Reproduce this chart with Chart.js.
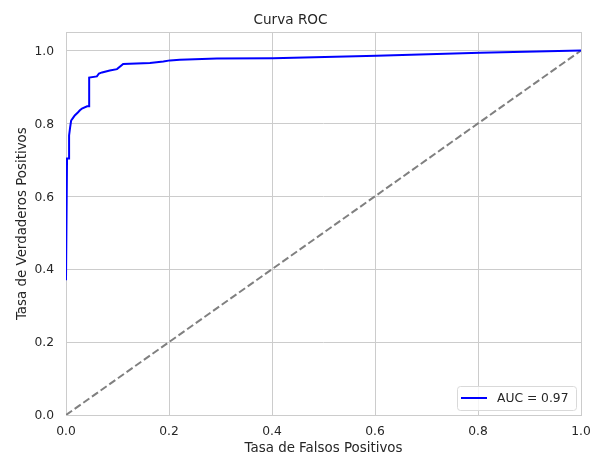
<!DOCTYPE html>
<html>
<head>
<meta charset="utf-8">
<script src="https://cdn.jsdelivr.net/npm/chart.js@4"></script>
<style>
  html, body { margin: 0; padding: 0; background: #fff; }
  #wrap { width: 597px; height: 457px; }
</style>
</head>
<body>
<div id="wrap"><canvas id="roc-chart"></canvas></div>
<script>
// curva ROC
let fpr = [0, 0.002, 0.006, 0.006, 0.008, 0.010, 0.013, 0.017, 0.023, 0.027, 0.031, 0.041, 0.045, 0.045, 0.060, 0.064, 0.070, 0.085, 0.099, 0.111, 0.163, 0.189, 0.202, 0.221, 0.293, 0.402, 0.603, 0.804, 1.0];
let tpr = [0.370, 0.704, 0.704, 0.767, 0.789, 0.808, 0.814, 0.822, 0.830, 0.836, 0.841, 0.847, 0.847, 0.926, 0.929, 0.937, 0.940, 0.945, 0.949, 0.963, 0.966, 0.970, 0.973, 0.975, 0.978, 0.979, 0.986, 0.994, 1.0];
let diag_x = [0, 1];
let diag_y = [0, 1];
let y_ticks = [0, 0.2, 0.4, 0.6, 0.8, 1.0];
let auc_label = "AUC = 0.97";

const txt = "#262626";
const gridCol = "#cccccc";
const fam = "'DejaVu Sans', sans-serif";

const toPoints = (xs, ys) => xs.map((v, i) => ({x: v, y: ys[i]}));

// marco y leyenda dentro del area
const framePlugin = {
  id: 'frame',
  beforeDatasetsDraw(chart) {
    const a = chart.chartArea, ctx = chart.ctx;
    ctx.save();
    ctx.strokeStyle = gridCol;
    ctx.lineWidth = 1;
    ctx.strokeRect(Math.round(a.left) + 0.5, Math.round(a.top) + 0.5,
                   Math.round(a.right - a.left), Math.round(a.bottom - a.top));
    ctx.restore();
  },
  afterDraw(chart) {
    const a = chart.chartArea, ctx = chart.ctx;
    const w = 119, h = 24;
    const x0 = a.right - 5 - w, y0 = a.bottom - 5 - h;
    ctx.save();
    ctx.fillStyle = "rgba(255,255,255,0.8)";
    ctx.strokeStyle = "#d9d9d9";
    ctx.lineWidth = 1;
    ctx.beginPath();
    ctx.roundRect(x0 + 0.5, y0 + 0.5, w, h, 3);
    ctx.fill();
    ctx.stroke();
    ctx.strokeStyle = "blue";
    ctx.lineWidth = 2;
    ctx.beginPath();
    ctx.moveTo(x0 + 4, y0 + h / 2);
    ctx.lineTo(x0 + 30, y0 + h / 2);
    ctx.stroke();
    ctx.fillStyle = txt;
    ctx.font = "12.3px " + fam;
    ctx.textBaseline = "middle";
    ctx.fillText(auc_label, x0 + 40, y0 + h / 2 + 0.5);
    ctx.restore();
  }
};

const ctx = document.getElementById('roc-chart');
const myChart = new Chart(ctx, {
  type: 'scatter',
  data: {
    datasets: [
      {
        data: toPoints(fpr, tpr),
        showLine: true,
        borderColor: "blue",
        backgroundColor: "blue",
        borderWidth: 2,
        pointRadius: 0,
        tension: 0
      },
      {
        data: toPoints(diag_x, diag_y),
        showLine: true,
        borderColor: "gray",
        borderWidth: 2,
        borderDash: [7.4, 3.2],
        pointRadius: 0
      }
    ]
  },
  options: {
    responsive: true,
    maintainAspectRatio: false,
    animation: false,
    layout: { padding: { left: 0, right: 16, top: 0, bottom: 0 } },
    plugins: {
      legend: { display: false },
      tooltip: { enabled: false },
      title: {
        display: true,
        text: "Curva ROC",
        color: txt,
        font: { family: fam, size: 13.6, weight: 'normal' },
        padding: { top: 12, bottom: 4 }
      }
    },
    scales: {
      x: {
        type: 'linear',
        min: 0,
        max: 1,
        ticks: {
          stepSize: 0.2,
          color: txt,
          padding: 9.5,
          font: { family: fam, size: 12.3 },
          callback: v => Number(v).toFixed(1)
        },
        grid: { color: gridCol, drawTicks: false },
        border: { display: false },
        title: {
          display: true,
          text: "Tasa de Falsos Positivos",
          color: txt,
          font: { family: fam, size: 13.4 },
          padding: { top: 0, bottom: 0 }
        },
        afterFit: s => { s.height = 42; s.paddingLeft = 0; s.paddingRight = 0; }
      },
      y: {
        type: 'linear',
        min: 0,
        max: 1.05,
        afterBuildTicks: s => { s.ticks = y_ticks.map(v => ({value: v})); },
        ticks: {
          color: txt,
          padding: 12,
          labelOffset: 1,
          font: { family: fam, size: 12.3 },
          callback: v => Number(v).toFixed(1)
        },
        grid: { color: gridCol, drawTicks: false },
        border: { display: false },
        title: {
          display: true,
          text: "Tasa de Verdaderos Positivos",
          color: txt,
          font: { family: fam, size: 13.4 },
          padding: { top: 14, bottom: 0 }
        },
        afterFit: s => { s.width = 66; s.paddingTop = 0; s.paddingBottom = 0; }
      }
    }
  },
  plugins: [framePlugin]
});
</script>
</body>
</html>
